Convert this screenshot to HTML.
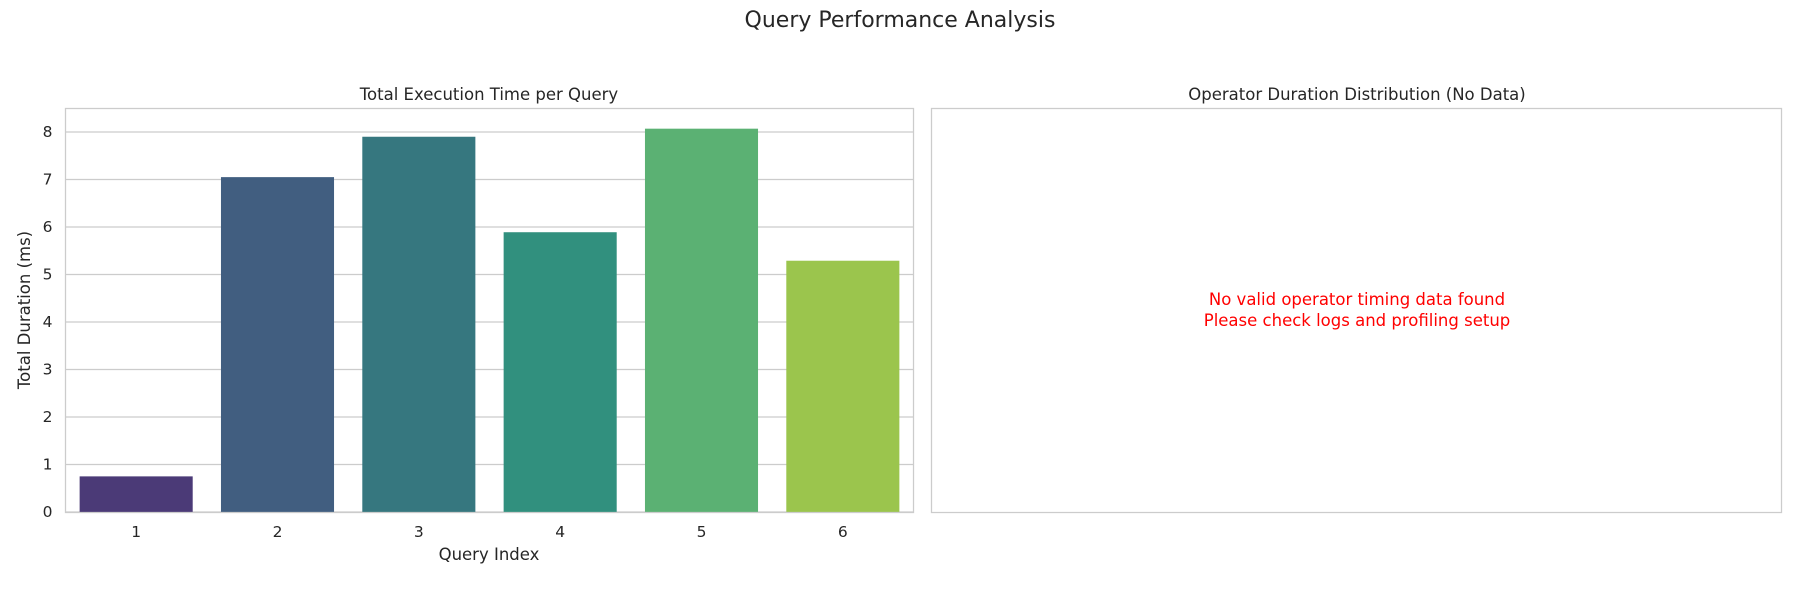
<!DOCTYPE html>
<html><head><meta charset="utf-8"><style>
body{margin:0;background:#fff;font-family:"Liberation Sans","DejaVu Sans",sans-serif;}
</style></head><body>
<svg width="1800" height="600" xmlns="http://www.w3.org/2000/svg" font-family="DejaVu Sans, Liberation Sans, sans-serif">
<rect width="1800" height="600" fill="#fff"/>
<text x="900" y="27" text-anchor="middle" font-size="22" fill="#262626">Query Performance Analysis</text>
<text x="489" y="100" text-anchor="middle" font-size="16.5" fill="#262626">Total Execution Time per Query</text>
<text x="1357" y="100" text-anchor="middle" font-size="16.5" fill="#262626">Operator Duration Distribution (No Data)</text>
<g id="grid"></g>
<g id="bars"></g>
<g id="yticks"></g>
<g id="xticks"></g>
<rect x="65.5" y="108.5" width="848" height="404" fill="none" stroke="#cccccc" stroke-width="1.25"/>
<rect x="931.5" y="108.5" width="850" height="404" fill="none" stroke="#cccccc" stroke-width="1.25"/>
<text x="30" y="310" text-anchor="middle" font-size="16.5" fill="#262626" transform="rotate(-90 30 310)">Total Duration (ms)</text>
<text x="489" y="560" text-anchor="middle" font-size="16.5" fill="#262626">Query Index</text>
<text x="1357" y="305" text-anchor="middle" font-size="16.5" fill="#ff0000">No valid operator timing data found</text>
<text x="1357" y="326" text-anchor="middle" font-size="16.5" fill="#ff0000">Please check logs and profiling setup</text>
</svg>
<script>
const categories=["1","2","3","4","5","6"];
const values=[0.75,7.05,7.9,5.89,8.07,5.29];
const yTicks=[0,1,2,3,4,5,6,7,8];
const colors=["#4b3a77","#415e80","#36777f","#31907e","#5bb173","#9bc54d"];
const NS="http://www.w3.org/2000/svg";
const x0=65.5,x1=913.5,yBase=512,yPer=47.5;
const y=v=>yBase-v*yPer;
const band=(x1-x0)/categories.length;
const xc=i=>x0+band*(i+0.5);
function mk(t,a,p){const e=document.createElementNS(NS,t);for(const k in a)e.setAttribute(k,a[k]);p.appendChild(e);return e;}
const grid=document.getElementById('grid'),bars=document.getElementById('bars'),yt=document.getElementById('yticks'),xt=document.getElementById('xticks');
yTicks.forEach(t=>{
 const l=mk('line',{x1:x0,x2:x1,y1:y(t),y2:y(t),stroke:'#cccccc','stroke-width':1.25},grid);
 
 
 const tx=mk('text',{x:x0-13,y:y(t)+5,'text-anchor':'end','font-size':15.5,fill:'#262626'},yt);
 tx.textContent=t;
 
 
});
categories.forEach((c,i)=>{
 const w=band*0.8;
 const r=mk('rect',{x:xc(i)-w/2,y:y(values[i]),width:w,height:yBase-y(values[i]),fill:colors[i]},bars);
 
 
 const tx=mk('text',{x:xc(i),y:yBase+25,'text-anchor':'middle','font-size':15.5,fill:'#262626'},xt);
 tx.textContent=c;
 
 
});
</script>
</body></html>
